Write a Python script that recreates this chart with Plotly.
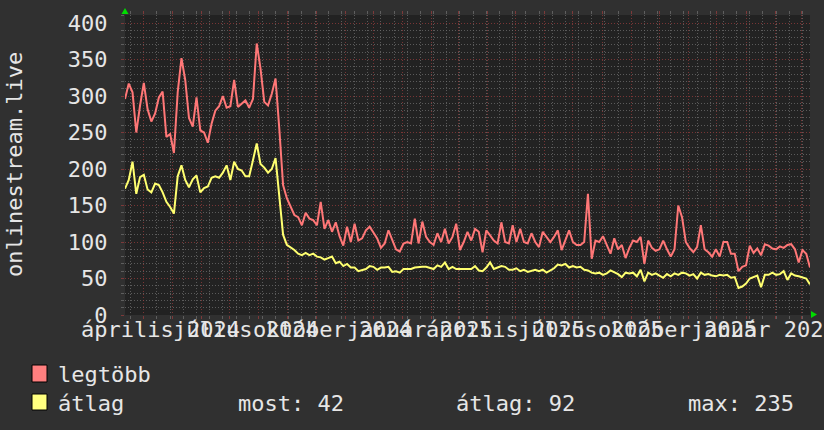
import plotly.graph_objects as go
import pandas as pd

# ---------------- data ----------------
start_date = "2024-03-12"
end_date = "2026-03-10"
step = "4D"

legtobb = [
    296, 317, 305, 250, 287, 318, 282, 265, 276, 298,
    306, 244, 248, 222, 305, 352, 322, 270, 258, 298,
    253, 250, 236, 262, 280, 286, 300, 284, 286, 322,
    285, 290, 294, 284, 296, 372, 338, 292, 287, 303,
    324, 255, 178, 160, 148, 137, 134, 123, 140, 132,
    130, 123, 155, 118, 130, 114, 127, 108, 95, 121,
    100, 125, 102, 105, 116, 121, 113, 105, 92, 98,
    116, 102, 90, 87, 98, 100, 98, 132, 98, 128,
    107, 100, 96, 112, 100, 118, 98, 107, 125, 89,
    100, 114, 102, 118, 114, 86, 116, 109, 102, 98,
    127, 100, 98, 123, 100, 118, 100, 98, 112, 100,
    93, 114, 107, 100, 107, 116, 89, 102, 116, 100,
    96, 96, 100, 166, 77, 102, 100, 108, 96, 84,
    105, 90, 96, 78, 92, 102, 100, 107, 70, 102,
    92, 88, 90, 102, 90, 80, 90, 150, 134, 100,
    92, 86, 93, 123, 90, 86, 80, 90, 80, 100,
    100, 84, 84, 60, 66, 68, 95, 85, 91, 82,
    97, 95, 91, 90, 94, 92, 96, 97, 90, 72,
    89, 84, 65,
]

atlag = [
    173, 185, 210, 166, 189, 192, 172, 168, 180, 178,
    168, 155, 148, 139, 190, 205, 185, 175, 186, 191,
    168, 174, 176, 188, 190, 188, 195, 205, 185, 210,
    200, 198, 190, 190, 212, 235, 207, 202, 195, 200,
    215, 160, 110, 96, 93, 89, 84, 82, 85, 82,
    84, 80, 79, 76, 78, 80, 71, 73, 67, 70,
    65, 65, 60, 62, 63, 67, 66, 62, 65, 65,
    66, 59, 60, 58, 63, 63, 63, 65, 66, 66,
    66, 64, 63, 68, 66, 72, 63, 66, 63, 63,
    63, 64, 63, 67, 61, 60, 65, 72, 63, 65,
    67, 66, 62, 62, 64, 60, 62, 59, 60, 62,
    60, 62, 58, 61, 64, 69, 68, 70, 65, 67,
    65, 66, 62, 61, 58, 57, 58, 55, 57, 61,
    59, 56, 52, 58, 57, 58, 53, 62, 46, 58,
    55, 57, 54, 51, 56, 53, 57, 55, 58, 57,
    54, 56, 50, 58, 55, 56, 54, 53, 55, 54,
    55, 51, 52, 37, 39, 43, 50, 52, 54, 38,
    55, 55, 58, 55, 56, 60, 48, 57, 54, 53,
    52, 50, 42,
]

x_tick_labels = ["április 2024", "július 2024", "október 2024", "január 2025",
                 "április 2025", "július 2025", "október 2025", "január 2026"]
x_tick_dates = ["2024-04-19", "2024-07-19", "2024-10-19", "2025-01-19",
                "2025-04-20", "2025-07-20", "2025-10-20", "2026-01-20"]

series_names = ["legtöbb", "átlag"]
stat_labels = ["most: 42", "átlag: 92", "max: 235"]
y_title = "onlinestream.live"

dates = pd.date_range(start_date, periods=len(legtobb), freq=step)

# ---------------- styling ----------------
W_FIG, H_FIG = 824, 430
L, R, T, B = 125, 14, 15, 115
PW = W_FIG - L - R
PH = H_FIG - T - B
FONT = "DejaVu Sans Mono"
FS = 22
TXT = "#e6e6e6"
RED = "#ff7777"
YEL = "#ffff70"
GRID_MAJOR = "rgba(150,60,60,0.75)"
GRID_MINOR = "rgba(110,110,110,0.75)"


def px(xp):
    return (xp - L) / PW


def py(yp):
    return (T + PH - yp) / PH


fig = go.Figure()
fig.add_trace(go.Scatter(x=dates, y=legtobb, mode="lines",
                         line=dict(color=RED, width=2), name=series_names[0],
                         showlegend=False))
fig.add_trace(go.Scatter(x=dates, y=atlag, mode="lines",
                         line=dict(color=YEL, width=2), name=series_names[1],
                         showlegend=False))

fig.update_layout(
    width=W_FIG, height=H_FIG,
    margin=dict(l=L, r=R, t=T, b=B, pad=0),
    paper_bgcolor="#303030",
    plot_bgcolor="#222222",
    font=dict(family=FONT, color=TXT, size=FS),
    showlegend=False,
)

fig.update_xaxes(
    type="date", range=[start_date, end_date],
    showticklabels=False,
    dtick="M1", tick0="2024-04-01",
    showgrid=True, gridcolor=GRID_MAJOR, griddash="1px,2px", gridwidth=1,
    ticks="outside", ticklen=3, tickcolor=GRID_MAJOR,
    minor=dict(dtick=14 * 86400000, tick0="2024-03-18", showgrid=True,
               gridcolor=GRID_MINOR, griddash="1px,2px", ticks="outside",
               ticklen=3, tickcolor=GRID_MINOR),
    showline=False, zeroline=False, mirror="ticks",
)

fig.update_yaxes(
    range=[0, 411], dtick=50, tick0=0,
    showgrid=True, gridcolor=GRID_MAJOR, griddash="1px,2px",
    ticks="outside", ticklen=3, tickcolor=GRID_MAJOR,
    minor=dict(dtick=10, showgrid=True, gridcolor=GRID_MINOR,
               griddash="1px,2px", ticks="outside", ticklen=3,
               tickcolor=GRID_MINOR),
    tickfont=dict(family=FONT, size=FS, color=TXT),
    ticklabelstandoff=9,
    showline=False, zeroline=False,
)

annotations = []
for d, t in zip(x_tick_dates, x_tick_labels):
    annotations.append(dict(x=d, y=0, xref="x", yref="paper", text=t,
                            showarrow=False, xanchor="center", yanchor="middle",
                            yshift=-14, font=dict(family=FONT, size=FS, color=TXT)))

annotations.append(dict(x=px(14), y=py(164), xref="paper", yref="paper",
                        text=y_title, textangle=-90, showarrow=False,
                        xanchor="center", yanchor="middle",
                        font=dict(family=FONT, size=FS, color=TXT)))

# legend texts
annotations.append(dict(x=px(56), y=py(374), xref="paper", yref="paper",
                        text=series_names[0], showarrow=False, xanchor="left",
                        yanchor="middle", font=dict(family=FONT, size=FS, color=TXT)))
annotations.append(dict(x=px(56), y=py(403), xref="paper", yref="paper",
                        text=series_names[1], showarrow=False, xanchor="left",
                        yanchor="middle", font=dict(family=FONT, size=FS, color=TXT)))
for xp, t in zip([236, 454, 686], stat_labels):
    annotations.append(dict(x=px(xp), y=py(403), xref="paper", yref="paper",
                            text=t, showarrow=False, xanchor="left",
                            yanchor="middle", font=dict(family=FONT, size=FS, color=TXT)))

shapes = [
    dict(type="rect", xref="paper", yref="paper", x0=px(32), x1=px(47),
         y0=py(382), y1=py(365), fillcolor="#ff7f7f", line=dict(color="#000000", width=1)),
    dict(type="rect", xref="paper", yref="paper", x0=px(32), x1=px(47),
         y0=py(410), y1=py(394), fillcolor="#ffff7f", line=dict(color="#000000", width=1)),
]


def tri(points):
    return "M " + " L ".join(f"{px(a)},{py(b)}" for a, b in points) + " Z"


shapes.append(dict(type="path", xref="paper", yref="paper",
                   path=tri([(121.5, 14), (128.5, 14), (125, 8)]),
                   fillcolor="#00dd00", line=dict(width=0)))
shapes.append(dict(type="path", xref="paper", yref="paper",
                   path=tri([(811, 311), (811, 318), (817, 314.5)]),
                   fillcolor="#00dd00", line=dict(width=0)))

fig.update_layout(annotations=annotations, shapes=shapes)

fig.write_html(
    "out.html",
    config={"displayModeBar": False},
    post_script="document.body.style.margin='0';document.body.style.background='#303030';",
)
